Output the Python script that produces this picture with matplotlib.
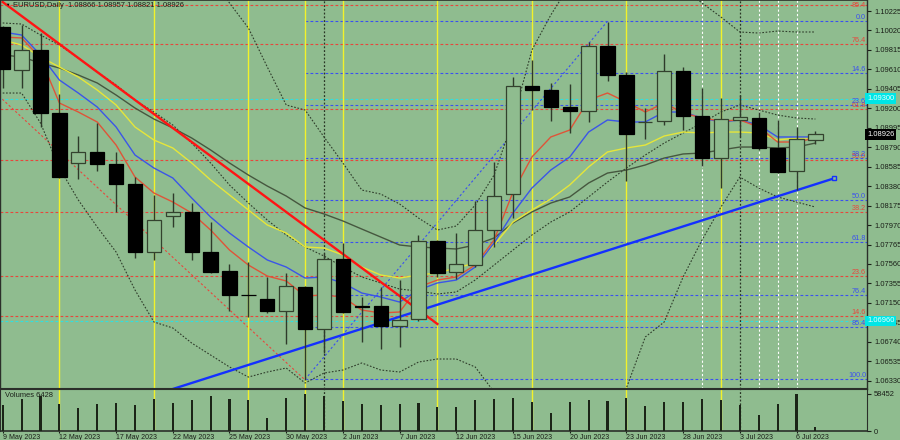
import matplotlib
matplotlib.use('Agg')
import matplotlib.pyplot as plt
import matplotlib.transforms as mtransforms

# ---------------- data ----------------
dates = ['9 May 2023', '10 May 2023', '11 May 2023', '12 May 2023',
         '15 May 2023', '16 May 2023', '17 May 2023', '18 May 2023', '19 May 2023',
         '22 May 2023', '23 May 2023', '24 May 2023', '25 May 2023', '26 May 2023',
         '29 May 2023', '30 May 2023', '31 May 2023', '1 Jun 2023', '2 Jun 2023',
         '5 Jun 2023', '6 Jun 2023', '7 Jun 2023', '8 Jun 2023', '9 Jun 2023',
         '12 Jun 2023', '13 Jun 2023', '14 Jun 2023', '15 Jun 2023', '16 Jun 2023',
         '19 Jun 2023', '20 Jun 2023', '21 Jun 2023', '22 Jun 2023', '23 Jun 2023',
         '26 Jun 2023', '27 Jun 2023', '28 Jun 2023', '29 Jun 2023', '30 Jun 2023',
         '3 Jul 2023', '4 Jul 2023', '5 Jul 2023', '6 Jul 2023', '7 Jul 2023']

opens = [1.10057, 1.09604, 1.09814, 1.09151, 1.08624, 1.08740, 1.08613, 1.08403, 1.07686, 1.08065,
         1.08108, 1.07686, 1.07486, 1.07233, 1.07191, 1.07065, 1.07317, 1.06875, 1.07612, 1.07117,
         1.07117, 1.06907, 1.06980, 1.07802, 1.07475, 1.07549, 1.07918, 1.08297, 1.09435, 1.09393,
         1.09214, 1.09172, 1.09856, 1.09551, 1.09056, 1.09066, 1.09593, 1.09119, 1.08676, 1.09077,
         1.09098, 1.08782, 1.08540, 1.08866]
highs = [1.10067, 1.10078, 1.09993, 1.09351, 1.08908, 1.09045, 1.08740, 1.08476, 1.08287, 1.08308,
         1.08202, 1.08002, 1.07560, 1.07581, 1.07423, 1.07465, 1.07328, 1.07676, 1.07781, 1.07212,
         1.07317, 1.07391, 1.07865, 1.07813, 1.07886, 1.08223, 1.08634, 1.09530, 1.09709, 1.09467,
         1.09456, 1.09899, 1.10109, 1.09582, 1.09203, 1.09772, 1.09635, 1.09414, 1.09309, 1.09340,
         1.09161, 1.09077, 1.09003, 1.08957]
lows = [1.09414, 1.09414, 1.09003, 1.08466, 1.08455, 1.08540, 1.08108, 1.07623, 1.07602, 1.07950,
        1.07602, 1.07465, 1.07065, 1.07001, 1.07044, 1.06717, 1.06338, 1.06622, 1.07044, 1.06738,
        1.06664, 1.06685, 1.06959, 1.07423, 1.07402, 1.07528, 1.07739, 1.08044, 1.09182, 1.09066,
        1.08940, 1.09056, 1.09488, 1.08434, 1.08877, 1.09024, 1.08971, 1.08592, 1.08360, 1.08898,
        1.08761, 1.08518, 1.08339, 1.08821]
closes = [1.09614, 1.09814, 1.09151, 1.08476, 1.08740, 1.08613, 1.08403, 1.07686, 1.08023, 1.08108,
          1.07686, 1.07475, 1.07233, 1.07228, 1.07065, 1.07328, 1.06875, 1.07612, 1.07054, 1.07112,
          1.06907, 1.06970, 1.07802, 1.07465, 1.07560, 1.07918, 1.08276, 1.09435, 1.09393, 1.09214,
          1.09172, 1.09856, 1.09551, 1.08929, 1.09060, 1.09593, 1.09119, 1.08676, 1.09087, 1.09108,
          1.08782, 1.08529, 1.08877, 1.08926]
volumes = [41700, 50800, 54400, 42200, 35600, 42700, 43700, 41700, 50300, 44700,
           49300, 55400, 50800, 49300, 19800, 51800, 58452, 55400, 47200, 42200,
           41700, 43200, 44200, 38100, 37600, 49300, 49800, 51300, 46200, 29000,
           46200, 49300, 46700, 52300, 39100, 45200, 46200, 50800, 48800, 40600,
           24900, 42700, 57800, 6428]

ma_red = [1.09951, 1.09941, 1.09730, 1.09256, 1.09161, 1.09056, 1.08813, 1.08476, 1.08308, 1.08213,
          1.08097, 1.07918, 1.07707, 1.07549, 1.07433, 1.07381, 1.07223, 1.07233, 1.07212, 1.07075,
          1.07044, 1.07054, 1.07317, 1.07391, 1.07423, 1.07549, 1.07813, 1.08318, 1.08687, 1.08898,
          1.08971, 1.09287, 1.09361, 1.09266, 1.09161, 1.09256, 1.09151, 1.09098, 1.09066, 1.09077,
          1.09003, 1.08845, 1.08845, 1.08887]
ma_blue = [1.10004, 1.09972, 1.09762, 1.09498, 1.09361, 1.09214, 1.09003, 1.08708, 1.08571, 1.08466,
           1.08255, 1.08055, 1.07886, 1.07739, 1.07602, 1.07528, 1.07412, 1.07423, 1.07360, 1.07254,
           1.07212, 1.07159, 1.07286, 1.07360, 1.07391, 1.07528, 1.07781, 1.08097, 1.08360, 1.08550,
           1.08687, 1.08950, 1.09077, 1.09056, 1.09056, 1.09161, 1.09161, 1.09098, 1.09056, 1.09077,
           1.09024, 1.08898, 1.08898, 1.08898]
ma_yellow = [1.09920, 1.09867, 1.09741, 1.09635, 1.09530, 1.09393, 1.09235, 1.09003, 1.08866, 1.08782,
             1.08624, 1.08445, 1.08287, 1.08129, 1.07971, 1.07886, 1.07739, 1.07728, 1.07655, 1.07528,
             1.07444, 1.07412, 1.07444, 1.07465, 1.07518, 1.07570, 1.07760, 1.08002, 1.08129, 1.08245,
             1.08392, 1.08582, 1.08740, 1.08782, 1.08813, 1.08908, 1.08950, 1.08940, 1.08950, 1.08950,
             1.08940, 1.08866, 1.08887, 1.08887]
ma_gray = [1.09762, 1.09741, 1.09677, 1.09625, 1.09551, 1.09467, 1.09340, 1.09203, 1.09087, 1.08993,
           1.08887, 1.08761, 1.08624, 1.08497, 1.08381, 1.08276, 1.08150, 1.08087, 1.08013, 1.07928,
           1.07844, 1.07760, 1.07739, 1.07728, 1.07718, 1.07760, 1.07834, 1.07992, 1.08108, 1.08202,
           1.08266, 1.08413, 1.08518, 1.08550, 1.08603, 1.08676, 1.08719, 1.08729, 1.08761, 1.08792,
           1.08792, 1.08782, 1.08792, 1.08834]
bb_mid = [1.10099, 1.10088, 1.09972, 1.09867, 1.09730, 1.09582, 1.09446, 1.09287, 1.09161, 1.09024,
          1.08834, 1.08624, 1.08392, 1.08202, 1.08023, 1.07865, 1.07739, 1.07644, 1.07528, 1.07423,
          1.07360, 1.07296, 1.07275, 1.07244, 1.07265, 1.07391, 1.07549, 1.07707, 1.07865, 1.08002,
          1.08108, 1.08266, 1.08424, 1.08571, 1.08708, 1.08834, 1.08940, 1.09045, 1.09161, 1.09235,
          1.09182, 1.09129, 1.09098, 1.09087]
bb_low = [1.09361, 1.09361, 1.09045, 1.08571, 1.08234, 1.07950, 1.07686, 1.07286, 1.06949, 1.06886,
          1.06727, 1.06601, 1.06475, 1.06369, 1.06422, 1.06464, 1.06306, 1.06411, 1.06443, 1.06517,
          1.06443, 1.06422, 1.06527, 1.06559, 1.06559, 1.06475, 1.06211, 1.05864, 1.05600, 1.05474,
          1.05411, 1.05516, 1.05790, 1.06253, 1.06791, 1.06949, 1.07423, 1.07813, 1.08160, 1.08476,
          1.08360, 1.08266, 1.08213, 1.08160]
bb_up = [1.10836, 1.10815, 1.10899, 1.11163, 1.11226, 1.11215, 1.11205, 1.11289, 1.11373, 1.11163,
         1.10941, 1.10647, 1.10309, 1.10046, 1.09635, 1.09235, 1.09182, 1.08898, 1.08624, 1.08339,
         1.08297, 1.08192, 1.08044, 1.07918, 1.07960, 1.08181, 1.08497, 1.09077, 1.09814, 1.10183,
         1.10499, 1.10762, 1.10973, 1.10889, 1.10625, 1.10657, 1.10467, 1.10309, 1.10162, 1.10004,
         1.09993, 1.10014, 1.10004, 1.10004]

# Fibonacci levels
fib_red_labels = ['14.6', '23.6', '38.2', '50.0', '61.8', '76.4', '85.4']
fib_red_prices = [1.07012, 1.07433, 1.08111, 1.08652, 1.09196, 1.09874, 1.10288]
fib_blue_labels = ['0.0', '14.6', '23.6', '38.2', '50.0', '61.8', '76.4', '85.4', '100.0']
fib_blue_prices = [1.10117, 1.09575, 1.09232, 1.08673, 1.08231, 1.07788, 1.07233, 1.06893, 1.06345]
fib_red_anchor_bars = [-9, 16]
fib_red_anchor_prices = [1.10954, 1.06338]
fib_blue_anchor_bars = [16, 32]
fib_blue_anchor_prices = [1.06345, 1.10117]

cyan_levels = [1.09300, 1.06960]
trend_red_bars = [0, 23]
trend_red_prices = [1.10320, 1.06928]
trend_blue_bars = [9, 44]
trend_blue_prices = [1.06243, 1.08463]

yellow_vlines = [3, 8, 13, 16, 18, 23, 28, 33, 38]
white_vlines = [37, 40, 41, 42]
dark_vlines = [17, 39]

price_ticks = [1.10225, 1.10020, 1.09815, 1.09610, 1.09405, 1.09200, 1.08995, 1.08790, 1.08585,
               1.08380, 1.08175, 1.07970, 1.07765, 1.07560, 1.07355, 1.07150, 1.06945, 1.06740,
               1.06535, 1.06330]
date_tick_bars = [0, 3, 6, 9, 12, 15, 18, 21, 24, 27, 30, 33, 36, 39, 42]

# ---------------- style ----------------
BG = '#8fbc8f'
DARK = '#2e3a2a'
TXT = '#1a1f18'
RED_FIB = '#e8463c'
BLUE_FIB = '#3a50f0'
FONT = ['Liberation Sans', 'DejaVu Sans']

W, H = 900, 440
fig = plt.figure(figsize=(9, 4.4), dpi=100, facecolor=BG)
plot_w = 867
main_top, main_bot = 0, 389
vol_bot = 431
ax = fig.add_axes([0, (H - main_bot) / H, plot_w / W, (main_bot - main_top) / H], facecolor=BG)
axv = fig.add_axes([0, (H - vol_bot) / H, plot_w / W, (vol_bot - main_bot) / H], facecolor=BG, sharex=ax)

n = len(opens)
x = list(range(n))
xl = (-2.7 / 18.9, (plot_w - 2.7) / 18.9)
ax.set_xlim(*xl)
ax.set_ylim(1.06243, 1.10341)

# background horizontal levels
for pr in fib_red_prices:
    ax.plot(xl, [pr, pr], color=RED_FIB, lw=0.8, ls=(0, (2.5, 2)), zorder=1)
for pr in fib_blue_prices:
    ax.plot([16, xl[1]], [pr, pr], color=BLUE_FIB, lw=0.8, ls=(0, (2.5, 2)), zorder=1)
for pr in cyan_levels:
    ax.plot(xl, [pr, pr], color='#30e0e0', lw=0.8, ls=(0, (2.5, 2)), zorder=1)
ax.plot(fib_red_anchor_bars, fib_red_anchor_prices, color=RED_FIB, lw=0.8, ls=(0, (2, 2)), zorder=1)
ax.plot(fib_blue_anchor_bars, fib_blue_anchor_prices, color=BLUE_FIB, lw=0.8, ls=(0, (2, 2)), zorder=1)

# vertical markers
for b in yellow_vlines:
    ax.axvline(b, color='#f2f22a', lw=1.0, zorder=1)
    axv.axvline(b, color='#f2f22a', lw=1.0, zorder=1)
for b in white_vlines:
    ax.axvline(b, color='white', lw=0.8, ls=(0, (2, 2)), zorder=1)
for b in dark_vlines:
    ax.axvline(b, color='#2a3626', lw=0.9, ls=(0, (1.5, 1.5)), zorder=1)
    axv.axvline(b, color='#2a3626', lw=0.9, ls=(0, (1.5, 1.5)), zorder=1)

# indicator lines
ax.plot(x, bb_up, color='#2f3d2b', lw=0.8, ls=(0, (1.5, 1.5)), zorder=2)
ax.plot(x, bb_mid, color='#2f3d2b', lw=0.8, ls=(0, (1.5, 1.5)), zorder=2)
ax.plot(x, bb_low, color='#2f3d2b', lw=0.8, ls=(0, (1.5, 1.5)), zorder=2)
ax.plot(x, ma_gray, color='#46573f', lw=1.0, zorder=2)
ax.plot(x, ma_yellow, color='#e6e63a', lw=1.0, zorder=2)
ax.plot(x, ma_blue, color='#3b55e8', lw=1.0, zorder=2)
ax.plot(x, ma_red, color='#df5438', lw=1.0, zorder=2)

# trend lines
ax.plot(trend_red_bars, trend_red_prices, color='#ff1414', lw=1.7, zorder=2.5)
ax.plot(trend_blue_bars, trend_blue_prices, color='#1430ff', lw=1.7, zorder=2.5)
ax.plot([trend_blue_bars[-1]], [trend_blue_prices[-1]], marker='s', ms=3.2, mfc=BG,
        mec='#1430ff', mew=1.0, zorder=2.6)

# candles
bw = 0.76
for i in x:
    o, h, l, c = opens[i], highs[i], lows[i], closes[i]
    ax.plot([i, i], [l, h], color=DARK, lw=1.0, zorder=3, solid_capstyle='butt')
    lo, hi = min(o, c), max(o, c)
    hgt = max(hi - lo, 0.00002)
    if c >= o:
        ax.bar(i, hgt, bottom=lo, width=bw, facecolor=BG, edgecolor='#33422e', lw=0.9, zorder=4)
    else:
        ax.bar(i, hgt, bottom=lo, width=bw, facecolor='black', edgecolor='black', lw=0.9, zorder=4)

# fib labels
for lab, pr in zip(fib_red_labels, fib_red_prices):
    va = 'center' if pr > 1.1020 else 'bottom'
    ax.text(xl[1] - 0.05, pr, lab, ha='right', va=va, fontsize=5.2, color=RED_FIB,
            family=FONT, zorder=6)
for lab, pr in zip(fib_blue_labels, fib_blue_prices):
    ax.text(xl[1] - 0.05, pr, lab, ha='right', va='bottom', fontsize=5.2, color=BLUE_FIB,
            family=FONT, zorder=6)

# right price axis
ax.yaxis.tick_right()
ax.set_yticks(price_ticks)
ax.set_yticklabels([f'{v:.5f}' for v in price_ticks])
ax.tick_params(axis='y', length=3, width=0.8, pad=2, labelsize=5.4, colors=TXT)
for lbl in ax.get_yticklabels():
    lbl.set_family(FONT)
ax.tick_params(axis='x', bottom=False, labelbottom=False)

tr = mtransforms.blended_transform_factory(ax.transAxes, ax.transData)
ax.text(1.0, closes[-1], f'{closes[-1]:.5f}', transform=tr, ha='left', va='center', fontsize=5.4,
        color='white', family=FONT, zorder=10, clip_on=False,
        bbox=dict(boxstyle='square,pad=0.25', fc='black', ec='none'))
for pr in cyan_levels:
    ax.text(1.0, pr, f'{pr:.5f}', transform=tr, ha='left', va='center', fontsize=5.4,
            color='#e8ffff', family=FONT, zorder=10, clip_on=False,
            bbox=dict(boxstyle='square,pad=0.25', fc='#00e6e6', ec='none'))

for sp in ['left', 'top', 'bottom', 'right']:
    ax.spines[sp].set_color('#2b2f2a')
ax.spines['bottom'].set_linewidth(1.5)
ax.spines['right'].set_linewidth(1.0)
ax.spines['left'].set_linewidth(1.0)
ax.spines['top'].set_linewidth(0.6)

ax.text(5 / plot_w, 0.992, '\u25bc', transform=ax.transAxes, ha='left', va='top', fontsize=3.2,
        color='black', family=FONT)
ax.text(13 / plot_w, 0.995, 'EURUSD,Daily  1.08866 1.08957 1.08821 1.08926', transform=ax.transAxes,
        ha='left', va='top', fontsize=5.4, color=TXT, family=FONT, zorder=6)

# volume panel
axv.bar(x, volumes, width=0.11, color='#1b2417', zorder=3)
axv.set_ylim(0, 66143)
axv.yaxis.tick_right()
axv.set_yticks([0, 58452])
axv.set_yticklabels(['0', '58452'])
axv.tick_params(axis='y', length=3, width=0.8, pad=2, labelsize=5.4, colors=TXT)
for lbl in axv.get_yticklabels():
    lbl.set_family(FONT)
axv.set_xticks(date_tick_bars)
axv.set_xticklabels([dates[b] for b in date_tick_bars])
axv.tick_params(axis='x', length=1.5, width=0.8, pad=0.3, labelsize=5.0, colors=TXT)
for lbl in axv.get_xticklabels():
    lbl.set_ha('left')
    lbl.set_family(FONT)
for sp in ['left', 'top', 'bottom', 'right']:
    axv.spines[sp].set_color('#2b2f2a')
axv.spines['bottom'].set_linewidth(1.2)
axv.text(5 / plot_w, 0.93, 'Volumes 6428', transform=axv.transAxes, ha='left', va='top',
         fontsize=5.4, color=TXT, family=FONT)

fig.savefig('out.png', dpi=100, facecolor=BG)
